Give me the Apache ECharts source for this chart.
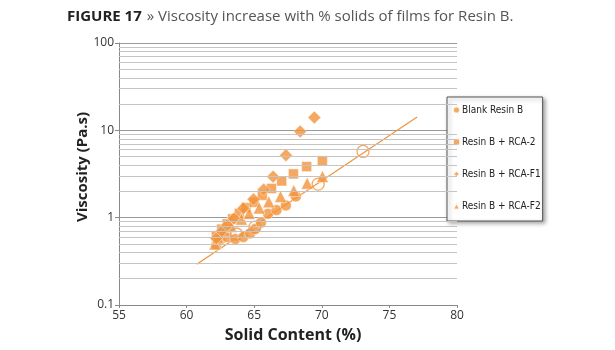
<!DOCTYPE html>
<html>
<head>
<meta charset="utf-8">
<script src="https://cdn.jsdelivr.net/npm/echarts@6/dist/echarts.min.js"></script>
<style>html,body{margin:0;padding:0;background:#fff;}#c{width:615px;height:350px;}</style>
</head>
<body>
<div id="c"></div>
<script>
// ---- data ----
const seriesNames = ['Blank Resin B', 'Resin B + RCA-2', 'Resin B + RCA-F1', 'Resin B + RCA-F2'];
const blank = [[62.2,0.49],[62.5,0.56],[63.0,0.6],[63.6,0.57],[64.2,0.6],[64.7,0.66],[65.06,0.74],[65.5,0.88],[66.03,1.11],[66.65,1.22],[67.34,1.38],[68.08,1.75]];
const rca2 = [[62.2,0.62],[62.6,0.74],[63.0,0.85],[63.4,0.97],[63.9,1.12],[64.4,1.3],[65.0,1.5],[65.6,1.8],[66.28,2.16],[67.03,2.63],[67.9,3.17],[68.88,3.84],[70.04,4.47]];
const rcaF1 = [[62.2,0.58],[62.6,0.7],[63.0,0.82],[63.5,0.98],[64.2,1.28],[64.95,1.62],[65.7,2.1],[66.4,2.95],[67.35,5.2],[68.4,9.7],[69.45,14.0]];
const rcaF2 = [[62.1,0.5],[62.3,0.6],[62.8,0.72],[63.3,0.79],[64.06,0.96],[64.63,1.12],[65.37,1.29],[66.08,1.52],[66.95,1.75],[67.93,2.05],[68.92,2.48],[70.05,2.97]];
const model = [[63.7,0.65],[65.05,0.78],[69.73,2.42],[73.05,5.73]];
const trend = [[60.75,0.293],[77.05,14.2]];
const minorGrid = [0.2,0.3,0.4,0.5,0.6,0.7,0.8,0.9,2,3,4,5,6,7,8,9,20,30,40,50,60,70,80,90];

const ORANGE = '#F2923A';
const chart = echarts.init(document.getElementById('c'), null, {renderer:'canvas'});
const mk = (name, data, symbol, size) => ({
  name, type:'scatter', data, symbol, symbolSize:size,
  itemStyle:{color:ORANGE, borderColor:'#fff', borderWidth:0.6}, z:3
});
chart.setOption({
  animation:false,
  backgroundColor:'#fff',
  title:{
    left:62, top:3,
    text:'{b|FIGURE 17} {r|» Viscosity increase with % solids of films for Resin B.}',
    textStyle:{rich:{
      b:{fontFamily:'Open Sans', fontWeight:'bold', fontSize:15, color:'#222'},
      r:{fontFamily:'Open Sans', fontWeight:'normal', fontSize:15, color:'#555'}
    }}
  },
  grid:{left:119, right:158, top:43, bottom:45},
  legend:{
    orient:'vertical', left:447, top:97,
    data:seriesNames,
    itemWidth:7, itemHeight:7, itemGap:22,
    padding:[8,2,10,5],
    backgroundColor:'#fff', borderColor:'#555', borderWidth:1,
    shadowBlur:4, shadowOffsetX:2, shadowOffsetY:2, shadowColor:'rgba(0,0,0,0.35)',
    textStyle:{fontFamily:'DejaVu Sans Condensed', fontSize:10, color:'#222', padding:[0,0,0,-3]}
  },
  xAxis:{
    type:'value', min:55, max:80, interval:5,
    name:'Solid Content (%)', nameLocation:'middle', nameGap:22,
    nameTextStyle:{fontFamily:'Open Sans', fontWeight:'bold', fontSize:16, color:'#222', padding:[0,0,0,10]},
    axisLine:{lineStyle:{color:'#888'}},
    axisTick:{show:true, length:3, lineStyle:{color:'#888'}},
    axisLabel:{fontFamily:'Open Sans', fontSize:12, color:'#333', margin:5},
    splitLine:{show:false}
  },
  yAxis:{
    type:'log', logBase:10, min:0.1, max:100,
    name:'Viscosity (Pa.s)', nameLocation:'middle', nameGap:29, nameMoveOverlap:false,
    nameTextStyle:{fontFamily:'Open Sans', fontWeight:'bold', fontSize:15, color:'#222', padding:[0,0,0,14]},
    axisLine:{show:true, lineStyle:{color:'#888'}},
    axisTick:{show:true, length:4, lineStyle:{color:'#888'}},
    axisLabel:{fontFamily:'Open Sans', fontSize:12, color:'#333', margin:5},
    splitLine:{show:true, lineStyle:{color:'#999', width:1}}
  },
  series:[
    {
      name:'grid', type:'line', data:[], silent:true, z:1,
      markLine:{silent:true, symbol:'none', label:{show:false},
        lineStyle:{color:'#c4c4c4', width:1, type:'solid'},
        data:minorGrid.map(v=>({yAxis:v}))}
    },
    {
      name:'trend', type:'line', data:trend, symbol:'none', z:2,
      lineStyle:{color:ORANGE, width:1.2}
    },
    mk(seriesNames[0], blank, 'circle', 11),
    mk(seriesNames[1], rca2, 'rect', 10),
    mk(seriesNames[3], rcaF2, 'triangle', 12),
    mk(seriesNames[2], rcaF1, 'diamond', 13),
    {
      name:'model', type:'scatter', data:model, symbol:'circle', symbolSize:12, z:4,
      itemStyle:{color:'rgba(255,255,255,0)', borderColor:ORANGE, borderWidth:1.3}
    }
  ]
});
</script>
</body>
</html>
